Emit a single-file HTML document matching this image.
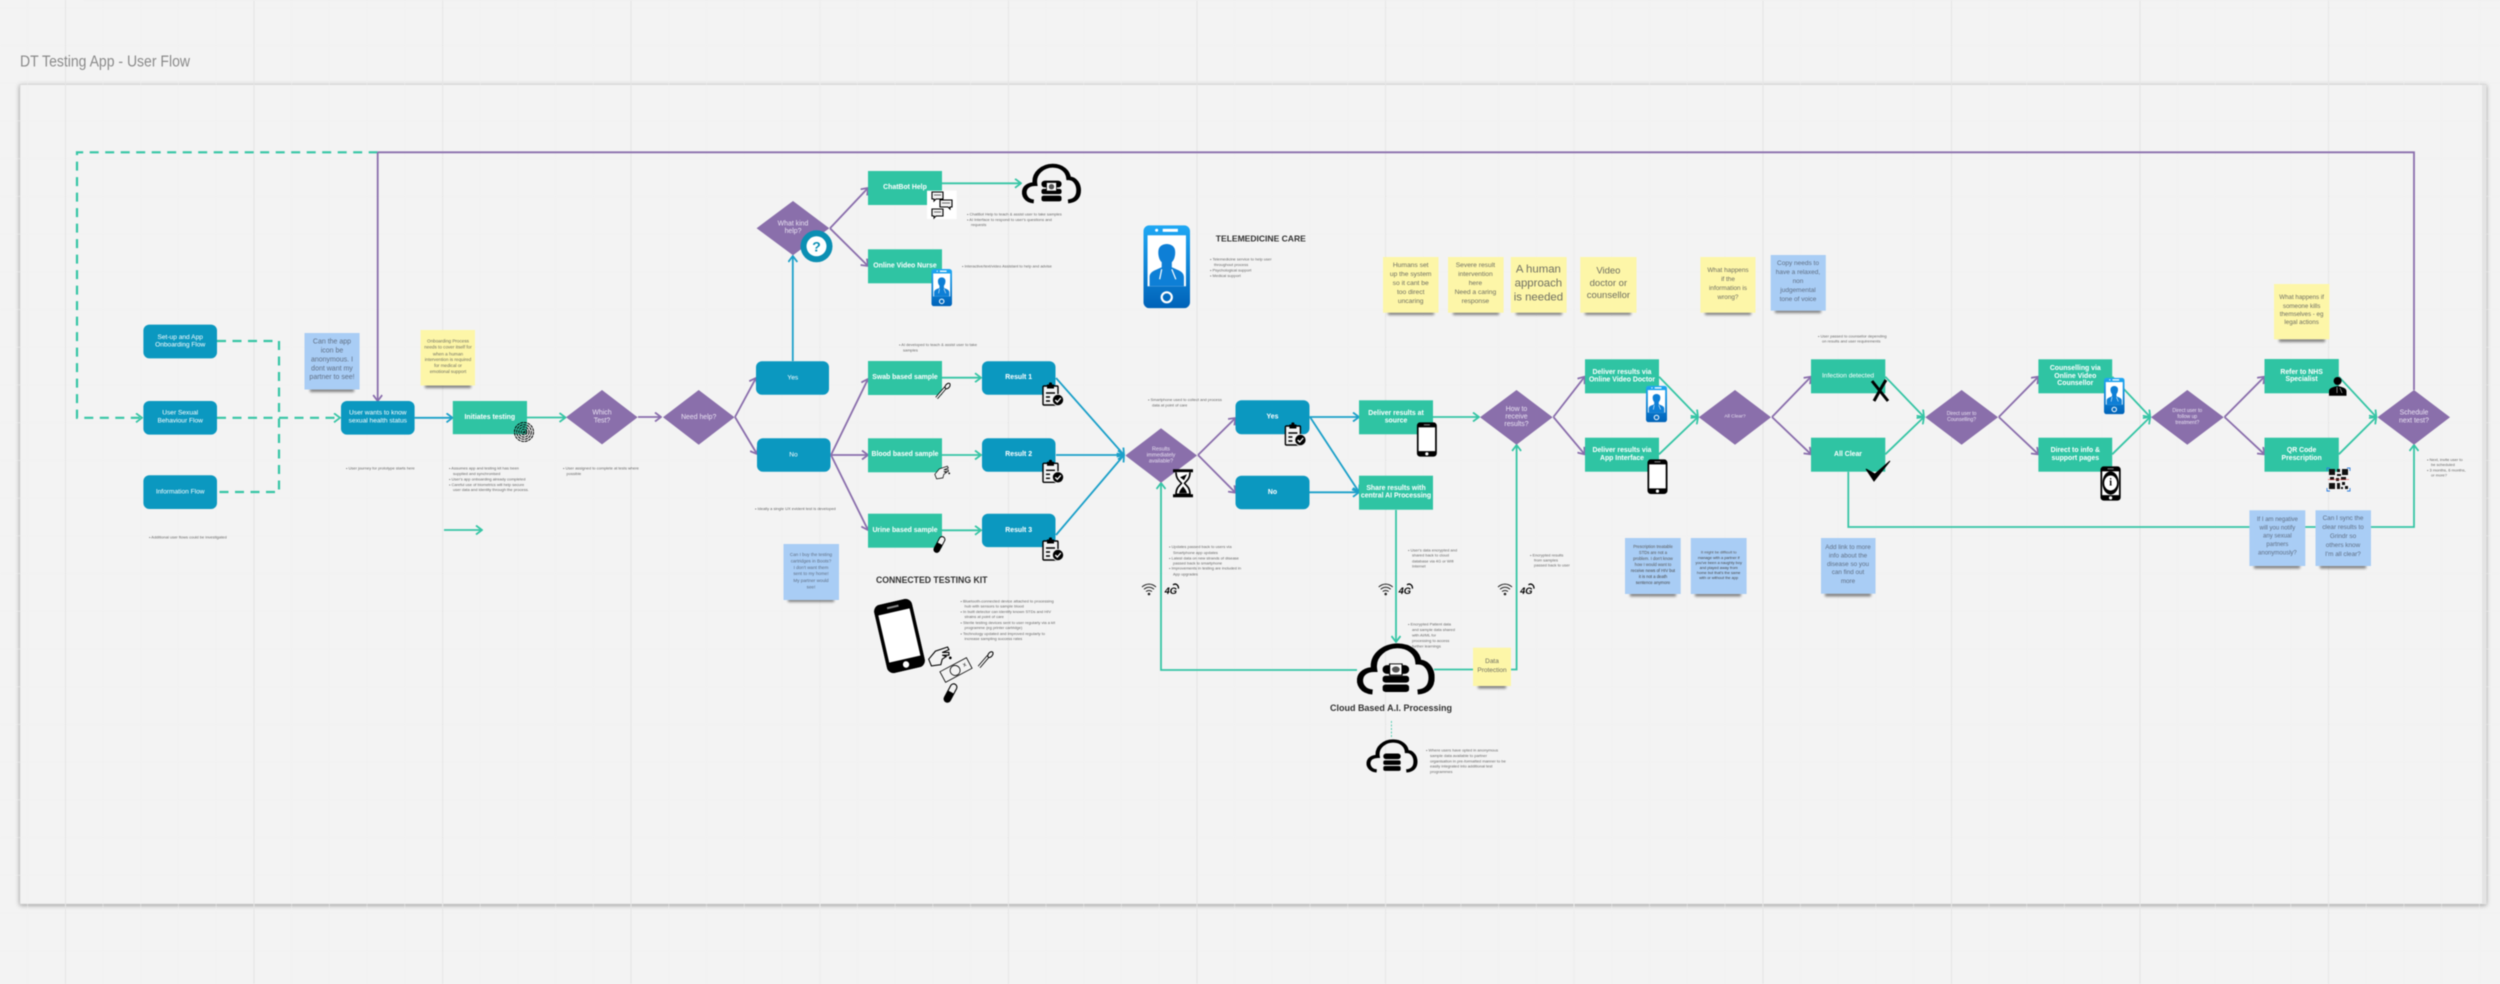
<!DOCTYPE html>
<html lang="en"><head><meta charset="utf-8"><title>DT Testing App - User Flow</title>
<style>
html,body{margin:0;padding:0;background:#f3f3f3;width:2500px;height:984px;overflow:hidden}
svg{display:block;filter:blur(.4px)}
text{font-family:"Liberation Sans",sans-serif;dominant-baseline:central}
.c text,text.c{text-anchor:middle}
.n{fill:#fff;font-size:6.6px;text-anchor:middle}
.b{fill:#fff;font-size:6.9px;font-weight:bold;text-anchor:middle}
.d{fill:#e9e2f2;font-size:6.9px;text-anchor:middle}
.s{fill:#666;font-size:4px}
.y{fill:#6f6f62;text-anchor:middle;font-size:6.7px}
.u{fill:#5f6f85;text-anchor:middle;font-size:6.5px}
.h{fill:#333;font-weight:bold}
.gl{fill:none;stroke-width:1.8}
.gr{stroke:#36c5a5}.pu{stroke:#8a6eac}.bl{stroke:#1ba0c9}
.ma{marker-end:url(#mg)}.mp{marker-end:url(#mp)}.mb{marker-end:url(#mb)}
.nb{fill:#0b98c0}.ng{fill:#2fc4a3}.di{fill:#8a6fab}.sy{fill:#fdf6a8}.sb{fill:#a9cdf5}
.sh{fill:#444;opacity:.65;filter:url(#bl2)}
</style></head><body>
<svg xmlns="http://www.w3.org/2000/svg" width="2500" height="984" viewBox="0 0 2500 984">
<defs>
<marker id="mg" viewBox="0 0 10 10" refX="9" refY="5" markerWidth="10" markerHeight="10" markerUnits="userSpaceOnUse" orient="auto"><path d="M3 .5 9 5 3 9.5" fill="none" stroke="#36c5a5" stroke-width="1.8"/></marker>
<marker id="mp" viewBox="0 0 10 10" refX="9" refY="5" markerWidth="10" markerHeight="10" markerUnits="userSpaceOnUse" orient="auto"><path d="M3 .5 9 5 3 9.5" fill="none" stroke="#8a6eac" stroke-width="1.8"/></marker>
<marker id="mb" viewBox="0 0 10 10" refX="9" refY="5" markerWidth="10" markerHeight="10" markerUnits="userSpaceOnUse" orient="auto"><path d="M3 .5 9 5 3 9.5" fill="none" stroke="#1ba0c9" stroke-width="1.8"/></marker>
<pattern id="g1" width="37.72" height="37.72" x="27.8" y="8" patternUnits="userSpaceOnUse"><path d="M37.72 0V37.72M0 37.72H37.72" stroke="#efefef" stroke-width="1" fill="none"/></pattern>
<filter id="bl2" x="-30%" y="-200%" width="160%" height="500%"><feGaussianBlur stdDeviation="1.2"/></filter>
<filter id="fs" x="-2%" y="-4%" width="104%" height="108%"><feDropShadow dx="0" dy="1" stdDeviation="2.5" flood-color="#000" flood-opacity=".4"/></filter>
<linearGradient id="pg" x1="0" y1="0" x2="0" y2="1"><stop offset="0" stop-color="#1fa8f4"/><stop offset="1" stop-color="#0062b8"/></linearGradient>

<symbol id="cloud" viewBox="0 0 100 85" preserveAspectRatio="none"><path d="M20 79C7 78 3 66 4 58 5 49 12 43 22 43 19 20 36 5 52 5 68 5 78 17 79 31 91 31 96 45 96 56 96 70 90 78 78 79" fill="none" stroke="#000" stroke-width="8"/><g fill="#000"><rect x="33" y="36" width="34" height="14" rx="6"/><rect x="33" y="53" width="34" height="11" rx="4"/><rect x="33" y="67" width="34" height="12" rx="4"/></g></symbol>
<symbol id="cloudai" viewBox="0 0 100 85" preserveAspectRatio="none"><use href="#cloud" width="100" height="85"/><rect x="42" y="34" width="16" height="18" fill="#fff" stroke="#000" stroke-width="1.5"/><circle cx="50" cy="43" r="5" fill="#555"/></symbol>
<symbol id="pb" viewBox="0 0 20 34" preserveAspectRatio="none"><rect width="20" height="34" rx="3.5" fill="#000"/><rect x="1.8" y="5" width="16.4" height="23.5" fill="#fff"/><rect x="7" y="2" width="6" height="1" fill="#888"/><circle cx="10" cy="31.2" r="1.6" fill="#fff"/></symbol>
<symbol id="pd" viewBox="0 0 46 83" preserveAspectRatio="none"><rect width="46" height="83" rx="6" fill="url(#pg)"/><rect x="4" y="10" width="38" height="51" fill="#fff"/><circle cx="13" cy="5" r="1.5" fill="#fff"/><rect x="19" y="3.5" width="15" height="3" fill="#fff"/><path d="M6 61V52C6 46 12 45 18 42V37C15 34 14 28 15 24 17 17 29 17 31 24 32 28 31 34 28 37V42C34 45 40 46 40 52V61Z" fill="#0e7fd6"/><path d="M18 44 16 54M28 44 32 54" stroke="#fff" stroke-width="1.2" fill="none"/><circle cx="23" cy="72" r="5" fill="none" stroke="#fff" stroke-width="2.2"/></symbol>
<symbol id="clip" viewBox="0 0 22 24"><rect x="1" y="4" width="15" height="19" rx="1" fill="#f3f3f3" stroke="#000" stroke-width="1.4"/><rect x="5" y="2.5" width="7" height="4" fill="#000"/><circle cx="8.5" cy="2" r="1.6" fill="#000"/><path d="M4 11H13M4 15H8M4 19H8" stroke="#000" stroke-width="1.4"/><circle cx="16" cy="18" r="5.6" fill="#000" stroke="#f3f3f3" stroke-width=".8"/><path d="M13.3 18 15.3 20 18.8 16" fill="none" stroke="#fff" stroke-width="1.3"/></symbol>
<symbol id="hg" viewBox="0 0 22 30"><path d="M1 1H21V4H1ZM1 26H21V29H1Z" fill="#000"/><path d="M4 4C4 11 8 13 9.5 15 8 17 4 19 4 26H18C18 19 14 17 12.5 15 14 13 18 11 18 4" fill="#fff" stroke="#000" stroke-width="1.6"/><path d="M7 25C8 21 10 20 11 18 12 20 14 21 15 25ZM8 9 15 6 12 12Z" fill="#000"/></symbol>
<symbol id="wf" viewBox="0 0 16 14"><g fill="none" stroke="#222" stroke-width="1"><path d="M1 4.5C5 .6 11 .6 15 4.5"/><path d="M3 6.8C6 4 10 4 13 6.8"/><path d="M5 9C7 7.6 9 7.6 11 9"/></g><circle cx="8" cy="11.5" r="1.3" fill="#222"/></symbol>
<symbol id="gg" viewBox="0 0 16 14"><text x="0" y="8.5" font-size="10" font-weight="bold" font-style="italic" fill="#000">4G</text><path d="M9 2C12 0 15 2 15 6" fill="none" stroke="#000" stroke-width="1.4"/></symbol>
<symbol id="swab" viewBox="0 0 16 17"><path d="M2 15.5 11 5" stroke="#000" stroke-width="3.2"/><path d="M2 15.5 11 5" stroke="#f3f3f3" stroke-width="1.6"/><ellipse cx="13" cy="3.5" rx="2" ry="3.2" transform="rotate(40 13 3.5)" fill="#f3f3f3" stroke="#000" stroke-width="1"/></symbol>
<symbol id="tube" viewBox="0 0 16 20"><g transform="rotate(28 8 10)"><rect x="5" y="1" width="6" height="18" rx="3" fill="#f3f3f3" stroke="#000"/><path d="M5 9H11V16C11 20 5 20 5 16Z" fill="#000"/></g></symbol>
<symbol id="hand" viewBox="0 0 20 18"><path d="M2 11 7 5 16 2 17 4 12 6 17 6 17 8 12 8 15 9 12 11 11 15 4 16Z" fill="#f3f3f3" stroke="#000" stroke-width=".8"/><circle cx="18" cy="10" r="1" fill="#000"/></symbol>
</defs>

<rect width="2500" height="984" fill="#f3f3f3"/>
<rect x="20" y="84.5" width="2466" height="819.5" fill="#f3f3f3" stroke="#cfcfcf" stroke-width=".6" filter="url(#fs)"/>
<rect width="2500" height="984" fill="url(#g1)"/>
<g stroke="#e5e5e5" stroke-width="1" fill="none"><path d="M65.5 0V984M254 0V984M442.7 0V984M631 0V984M1008.4 0V984M1197 0V984M1385.6 0V984M1763 0V984M1951.5 0V984M2140 0V984M2328.6 0V984M272 0H2500M460.7 0H2500M649 0H2500M837.7 0H2500"/></g>
<g stroke="#ececec" fill="none"><path d="M820 0V984M1574 0V984M83.5 0H2500"/></g>
<rect x="2482" y="85" width="4.5" height="819" fill="#e4e4e4"/>

<text x="20" y="62" font-size="15.4" fill="#8a8a8a" textLength="170" lengthAdjust="spacingAndGlyphs">DT Testing App - User Flow</text>

<!-- connectors -->
<g class="gl gr" stroke-dasharray="9 6.5" style="stroke-width:2.2"><path d="M377.7 152.3H77V417.8H142" class="ma"/><path d="M217 341H279V492H217"/><path d="M217 417.8H340" class="ma"/></g>
<g class="gl pu"><path d="M377.7 152.3H2414V390"/><path d="M377.7 152.3V401" class="mp"/>
<path d="M638 417H661" class="mp"/><path d="M735 417 756 378" class="mp"/><path d="M735 417 757 454" class="mp"/>
<path d="M830 228.3 868 188" class="mp"/><path d="M830 228.3 868 266" class="mp"/>
<path d="M831 455 868 379" class="mp"/><path d="M831 455H868" class="mp"/><path d="M831 455 868 530" class="mp"/>
<path d="M1198 455 1235.5 418" class="mp"/><path d="M1198 455 1235.5 492.7" class="mp"/>
<path d="M1553.4 417 1584.7 376.7" class="mp"/><path d="M1553.4 417 1584.7 454.3" class="mp"/>
<path d="M1772 417 1811 376.7" class="mp"/><path d="M1772 417 1811 454.3" class="mp"/>
<path d="M1998.8 417 2038.4 376.7" class="mp"/><path d="M1998.8 417 2038.4 454.3" class="mp"/>
<path d="M2224.5 417 2264.5 376.7" class="mp"/><path d="M2224.5 417 2264.5 454.3" class="mp"/></g>
<g class="gl bl"><path d="M414.6 417.8H452.5" class="mb"/><path d="M792.8 361V256" class="mb"/>
<path d="M1056 378 1124 455" class="mb"/><path d="M1056 455H1124" class="mb"/><path d="M1056 535 1124 455" class="mb"/>
<path d="M1309.5 417H1359" class="mb"/><path d="M1309.5 492.3H1359" class="mb"/><path d="M1310 417 1359 492" class="mb"/></g>
<g class="gl gr"><path d="M527 417.5H565.5" class="ma"/><path d="M444 530H482" class="ma"/>
<path d="M942 183.3H1021" class="ma"/><path d="M942 377.7H981" class="ma"/><path d="M942 455H981" class="ma"/><path d="M942 530.3H981" class="ma"/>
<path d="M1433 417H1479" class="ma"/><path d="M1396 510V642" class="ma"/>
<path d="M1357 670H1161V483" class="ma"/><path d="M1434 669.5H1516.6V445" class="ma"/>
<path d="M1659 376.7 1698 417" class="ma"/><path d="M1659 454.3 1698 417" class="ma"/>
<path d="M1885.3 376.7 1924 417" class="ma"/><path d="M1885.3 454.3 1924 417" class="ma"/>
<path d="M2112.2 376.7 2150.2 417" class="ma"/><path d="M2112.2 454.3 2150.2 417" class="ma"/>
<path d="M2338.8 376.7 2376.3 417" class="ma"/><path d="M2338.8 454.3 2376.3 417" class="ma"/>
<path d="M1848.3 471.7V527H2414V445" class="ma"/></g>
<path d="M1391.4 721V738" stroke="#36c5a5" stroke-width=".8" stroke-dasharray="2 1.5" fill="none"/>

<!-- blue rounded nodes -->
<g class="nb"><rect x="143.4" y="324.6" width="73.6" height="33.8" rx="6"/><rect x="143.4" y="401" width="73.6" height="33.6" rx="6"/><rect x="143.4" y="475.3" width="73.6" height="33.7" rx="6"/><rect x="341" y="401" width="73.6" height="33.6" rx="6"/>
<rect x="756" y="361.3" width="73" height="33.4" rx="6"/><rect x="757" y="438.3" width="73.5" height="33.4" rx="6"/>
<rect x="982" y="361.3" width="73.5" height="33.4" rx="6"/><rect x="982" y="438.3" width="73.5" height="33.4" rx="6"/><rect x="982" y="513.7" width="73.5" height="33.4" rx="6"/>
<rect x="1235.5" y="400.3" width="74" height="34" rx="6"/><rect x="1235.5" y="475.7" width="74" height="33.6" rx="6"/></g>
<!-- green nodes -->
<g class="ng"><rect x="452.8" y="401" width="74.2" height="33.2"/><rect x="868" y="171" width="74" height="34"/><rect x="868" y="249.3" width="74" height="34"/><rect x="868" y="361" width="74" height="34"/><rect x="868" y="438.3" width="74" height="34"/><rect x="868" y="513.7" width="74" height="34"/>
<rect x="1359" y="400.3" width="74" height="34"/><rect x="1359" y="475.7" width="74" height="34"/><rect x="1585" y="359.3" width="74" height="34"/><rect x="1585" y="437.7" width="74" height="34"/><rect x="1811" y="359.3" width="74.3" height="34"/><rect x="1811" y="437.7" width="74.3" height="34"/><rect x="2038.4" y="359.3" width="73.8" height="34"/><rect x="2038.4" y="437.7" width="73.8" height="34"/><rect x="2264.5" y="359" width="74.3" height="34.3"/><rect x="2264.5" y="437.7" width="74.3" height="34"/></g>
<!-- diamonds -->
<g class="di"><polygon points="566,417.3 602,390 637.6,417.3 602,444.4"/><polygon points="663,417.3 698.7,390 734.5,417.3 698.7,444.7"/><polygon points="756.6,228.2 793,201 829.3,228.2 793,255.3"/><polygon points="1125.4,455.5 1161,428.3 1197,455.5 1161,482.7"/><polygon points="1480,417.3 1516.5,390 1552.6,417.3 1516.5,444.7"/><polygon points="1698.8,417.3 1735,390 1771,417.3 1735,444.7"/><polygon points="1925.3,417.3 1961.6,390 1998,417.3 1961.6,444.7"/><polygon points="2151,417.3 2187.3,390 2223.7,417.3 2187.3,444.7"/><polygon points="2377.5,417.3 2414,390 2450,417.3 2414,444.7"/></g>

<!-- node labels -->
<g class="n"><text class="n" x="180.2" y="337.3">Set-up and App</text><text class="n" x="180.2" y="344.8">Onboarding Flow</text><text class="n" x="180.2" y="413.2">User Sexual</text><text class="n" x="180.2" y="421">Behaviour Flow</text><text class="n" x="180.2" y="491.9">Information Flow</text><text class="n" x="377.8" y="413.2">User wants to know</text><text class="n" x="377.8" y="421">sexual health status</text><text class="n" x="792.8" y="378">Yes</text><text class="n" x="793.5" y="454.8">No</text></g>
<g><text class="b" x="1018.7" y="377.7">Result 1</text><text class="b" x="1018.7" y="454.7">Result 2</text><text class="b" x="1018.7" y="530.3">Result 3</text><text class="b" x="1272.5" y="417">Yes</text><text class="b" x="1272.5" y="492.3">No</text>
<text class="b" x="489.8" y="417.3">Initiates testing</text><text class="b" x="905" y="187.7">ChatBot Help</text><text class="b" x="905" y="266">Online Video Nurse</text><text class="b" x="905" y="377.7">Swab based sample</text><text class="b" x="905" y="454.7">Blood based sample</text><text class="b" x="905" y="530.3">Urine based sample</text>
<text class="b" x="1396" y="413.3">Deliver results at</text><text class="b" x="1396" y="421">source</text><text class="b" x="1396" y="488.3">Share results with</text><text class="b" x="1396" y="496">central AI Processing</text>
<text class="b" x="1622" y="372.3">Deliver results via</text><text class="b" x="1622" y="380">Online Video Doctor</text><text class="b" x="1622" y="450.7">Deliver results via</text><text class="b" x="1622" y="458.3">App Interface</text>
<text class="n" x="1848" y="376">Infection detected</text><text class="b" x="1848" y="454.3">All Clear</text>
<text class="b" x="2075.3" y="368.7">Counselling via</text><text class="b" x="2075.3" y="376.3">Online Video</text><text class="b" x="2075.3" y="383.7">Counsellor</text><text class="b" x="2075.3" y="450.3">Direct to info &amp;</text><text class="b" x="2075.3" y="458.3">support pages</text>
<text class="b" x="2301.6" y="372.3">Refer to NHS</text><text class="b" x="2301.6" y="379.7">Specialist</text><text class="b" x="2301.6" y="450.3">QR Code</text><text class="b" x="2301.6" y="458.3">Prescription</text></g>
<g><text class="d" x="602" y="412.8">Which</text><text class="d" x="602" y="421">Test?</text><text class="d" x="698.7" y="417.3">Need help?</text><text class="d" x="793" y="224">What kind</text><text class="d" x="793" y="231.7">help?</text>
<text class="d" style="font-size:5.4px" x="1161" y="449.3">Results</text><text class="d" style="font-size:5.4px" x="1161" y="455.7">immediately</text><text class="d" style="font-size:5.4px" x="1161" y="461.7">available?</text>
<text class="d" x="1516.5" y="409.3">How to</text><text class="d" x="1516.5" y="417">receive</text><text class="d" x="1516.5" y="424.7">results?</text>
<text class="d" style="font-size:4.9px" x="1735" y="417">All Clear?</text><text class="d" style="font-size:5px" x="1961.6" y="414">Direct user to</text><text class="d" style="font-size:5px" x="1961.6" y="420">Counselling?</text>
<text class="d" style="font-size:5px" x="2187.3" y="411">Direct user to</text><text class="d" style="font-size:5px" x="2187.3" y="417">follow up</text><text class="d" style="font-size:5px" x="2187.3" y="423">treatment?</text>
<text class="d" x="2414" y="413">Schedule</text><text class="d" x="2414" y="421">next test?</text></g>

<!-- sticky shadows -->
<g class="sh"><rect x="310" y="388" width="44" height="4"/><rect x="425" y="384" width="46" height="4"/><rect x="788" y="598" width="46" height="4"/><rect x="1388" y="311" width="46" height="4"/><rect x="1453" y="311" width="46" height="4"/><rect x="1516" y="311" width="46" height="4"/><rect x="1585" y="311" width="46" height="4"/><rect x="1705" y="311" width="46" height="4"/><rect x="1775" y="309" width="46" height="4"/><rect x="1478" y="684.5" width="28" height="4"/><rect x="1630" y="592.5" width="46" height="4"/><rect x="1695" y="592.5" width="46" height="4"/><rect x="1825" y="592.5" width="46" height="4"/><rect x="2279" y="338" width="46" height="4"/><rect x="2254" y="564.5" width="46" height="4"/><rect x="2320" y="564.5" width="46" height="4"/></g>
<!-- stickies -->
<g class="sy"><rect x="420.6" y="330" width="54.4" height="55.5"/><rect x="1383" y="257" width="55.5" height="55.7"/><rect x="1448" y="257" width="55.6" height="55.7"/><rect x="1510.8" y="257" width="55.8" height="55.7"/><rect x="1580.3" y="257" width="56.2" height="55.7"/><rect x="1700.4" y="257" width="55.1" height="55.7"/><rect x="1473" y="647.7" width="38" height="38.3"/><rect x="2274" y="284" width="55.4" height="55.3"/></g>
<g class="sb"><rect x="304.5" y="333" width="55.1" height="56.5"/><rect x="783.5" y="544" width="55.5" height="56"/><rect x="1770.7" y="255" width="55.1" height="55.7"/><rect x="1625" y="538" width="55.7" height="56"/><rect x="1690.8" y="538" width="55.8" height="56"/><rect x="1821" y="538" width="54.5" height="55.7"/><rect x="2249.4" y="510.3" width="55.9" height="55.7"/><rect x="2315.5" y="510.3" width="55.5" height="55.7"/></g>
<!-- sticky text -->
<text class="u" style="font-size:7px" x="332" y="342">Can the app</text><text class="u" style="font-size:7px" x="332" y="351">icon be</text><text class="u" style="font-size:7px" x="332" y="360">anonymous. I</text><text class="u" style="font-size:7px" x="332" y="369">dont want my</text><text class="u" style="font-size:7px" x="332" y="377.6">partner to see!</text>
<text class="y" style="font-size:4.6px" x="448" y="341">Onboarding Process</text><text class="y" style="font-size:4.6px" x="448" y="347">needs to cover itself for</text><text class="y" style="font-size:4.6px" x="448" y="354">when a human</text><text class="y" style="font-size:4.6px" x="448" y="359.4">intervention is required</text><text class="y" style="font-size:4.6px" x="448" y="365.4">for medical or</text><text class="y" style="font-size:4.6px" x="448" y="371.3">emotional support</text>
<text class="u" style="font-size:4.6px" x="811" y="554.3">Can I buy the testing</text><text class="u" style="font-size:4.6px" x="811" y="561">cartridges in Boots?</text><text class="u" style="font-size:4.6px" x="811" y="567.3">I don't want them</text><text class="u" style="font-size:4.6px" x="811" y="573.7">sent to my home!</text><text class="u" style="font-size:4.6px" x="811" y="580.3">My partner would</text><text class="u" style="font-size:4.6px" x="811" y="587">see!</text>
<text class="y" x="1410.7" y="265.7">Humans set</text><text class="y" x="1410.7" y="274.7">up the system</text><text class="y" x="1410.7" y="283.7">so it cant be</text><text class="y" x="1410.7" y="292.7">too direct</text><text class="y" x="1410.7" y="301.7">uncaring</text>
<text class="y" x="1475.4" y="265.7">Severe result</text><text class="y" x="1475.4" y="274.7">intervention</text><text class="y" x="1475.4" y="283.7">here</text><text class="y" x="1475.4" y="292.7">Need a caring</text><text class="y" x="1475.4" y="301.7">response</text>
<text class="y" style="font-size:11.4px" x="1538.4" y="269.3">A human</text><text class="y" style="font-size:11.4px" x="1538.4" y="283.3">approach</text><text class="y" style="font-size:11.4px" x="1538.4" y="297.7">is needed</text>
<text class="y" style="font-size:9.5px" x="1608.4" y="271">Video</text><text class="y" style="font-size:9.5px" x="1608.4" y="283.3">doctor or</text><text class="y" style="font-size:9.5px" x="1608.4" y="295.7">counsellor</text>
<text class="y" style="font-size:6.4px" x="1728" y="270.3">What happens</text><text class="y" style="font-size:6.4px" x="1728" y="279.3">if the</text><text class="y" style="font-size:6.4px" x="1728" y="288.3">information is</text><text class="y" style="font-size:6.4px" x="1728" y="297.3">wrong?</text>
<text class="u" x="1798" y="263.3">Copy needs to</text><text class="u" x="1798" y="272.3">have a relaxed,</text><text class="u" x="1798" y="281.3">non</text><text class="u" x="1798" y="290.3">judgemental</text><text class="u" x="1798" y="299.3">tone of voice</text>
<text class="u" style="font-size:4.2px;fill:#555" x="1653" y="546.3">Prescription treatable</text><text class="u" style="font-size:4.2px;fill:#555" x="1653" y="552.3">STDs are not a</text><text class="u" style="font-size:4.2px;fill:#555" x="1653" y="558.3">problem. I don't know</text><text class="u" style="font-size:4.2px;fill:#555" x="1653" y="564.3">how I would want to</text><text class="u" style="font-size:4.2px;fill:#444" x="1653" y="570.3">receive news of HIV but</text><text class="u" style="font-size:4.2px;fill:#444" x="1653" y="576.3">it is not a death</text><text class="u" style="font-size:4.2px;fill:#444" x="1653" y="582.3">sentence anymore</text>
<text class="u" style="font-size:3.9px;fill:#555" x="1718.7" y="552">It might be difficult to</text><text class="u" style="font-size:3.9px;fill:#444" x="1718.7" y="557.3">manage with a partner if</text><text class="u" style="font-size:3.9px;fill:#444" x="1718.7" y="562.3">you've been a naughty boy</text><text class="u" style="font-size:3.9px;fill:#444" x="1718.7" y="567.3">and played away from</text><text class="u" style="font-size:3.9px;fill:#444" x="1718.7" y="572.3">home but that's the same</text><text class="u" style="font-size:3.9px;fill:#444" x="1718.7" y="577.7">with or without the app</text>
<text class="u" style="font-size:6.3px" x="1848" y="547.7">Add link to more</text><text class="u" style="font-size:6.3px" x="1848" y="556">info about the</text><text class="u" style="font-size:6.3px" x="1848" y="564.7">disease so you</text><text class="u" style="font-size:6.3px" x="1848" y="572.7">can find out</text><text class="u" style="font-size:6.3px" x="1848" y="581.3">more</text>
<text class="y" style="font-size:6.2px" x="2301.6" y="297.7">What happens if</text><text class="y" style="font-size:6.2px" x="2301.6" y="306.3">someone kills</text><text class="y" style="font-size:6.2px" x="2301.6" y="314.3">themselves - eg</text><text class="y" style="font-size:6.2px" x="2301.6" y="322.7">legal actions</text>
<text class="u" style="font-size:6px" x="2277.4" y="520">If I am negative</text><text class="u" style="font-size:6px" x="2277.4" y="528.3">will you notify</text><text class="u" style="font-size:6px" x="2277.4" y="536.7">any sexual</text><text class="u" style="font-size:6px" x="2277.4" y="545">partners</text><text class="u" style="font-size:6px" x="2277.4" y="553.7">anonymously?</text>
<text class="u" style="font-size:6.4px" x="2343" y="518.7">Can I sync the</text><text class="u" style="font-size:6.4px" x="2343" y="527.7">clear results to</text><text class="u" style="font-size:6.4px" x="2343" y="536.7">Grindr so</text><text class="u" style="font-size:6.4px" x="2343" y="545.3">others know</text><text class="u" style="font-size:6.4px" x="2343" y="554.3">I'm all clear?</text>
<text class="y" style="font-size:6.5px" x="1492" y="661.3">Data</text><text class="y" style="font-size:6.5px" x="1492" y="670.7">Protection</text>

<!-- small notes -->
<g class="s"><text class="s" x="346" y="468">• User journey for prototype starts here</text>
<text class="s" x="449" y="468">• Assumes app and testing kit has been</text><text class="s" x="453" y="473.3">supplied and synchronised</text><text class="s" x="449" y="479">• User's app onboarding already completed</text><text class="s" x="449" y="484.4">• Careful use of biometrics will help secure</text><text class="s" x="453" y="489.5">user data and identity through the process.</text>
<text class="s" x="563" y="468">• User assigned to complete at tests where</text><text class="s" x="566.5" y="473.3">possible</text>
<text class="s" x="149" y="537">• Additional user flows could be investigated</text>
<text class="s" x="967" y="214">• ChatBot Help to teach &amp; assist user to take samples</text><text class="s" x="967" y="219.3">• AI Interface to respond to user's questions and</text><text class="s" x="971" y="224.3">requests</text>
<text class="s" x="962" y="266">• Interactive/text/video Assistant to help and advise</text>
<text class="s" x="899" y="344.7">• AI developed to teach &amp; assist user to take</text><text class="s" x="903" y="350">samples</text>
<text class="s" x="755" y="508.7">• Ideally a single UX evident test is developed</text>
<text class="s" x="1148" y="399.3">• Smartphone used to collect and process</text><text class="s" x="1152" y="405">data at point of care</text>
<text class="s" x="1210" y="259">• Telemedicine service to help user</text><text class="s" x="1214" y="264.3">throughout process</text><text class="s" x="1210" y="270">• Psychological support</text><text class="s" x="1210" y="275.3">• Medical support</text>
<text class="s" x="960.5" y="601">• Bluetooth-connected device attached to processing</text><text class="s" x="964.5" y="606">hub with sensors to sample blood</text><text class="s" x="960.5" y="611.7">• In built detector can identify known STDs and HIV</text><text class="s" x="964.5" y="616.7">strains at point of care</text><text class="s" x="960.5" y="622.7">• Sterile testing devices sent to user regularly via a kit</text><text class="s" x="964.5" y="627.7">programme (eg printer cartridge)</text><text class="s" x="960.5" y="633.3">• Technology updated and improved regularly to</text><text class="s" x="964.5" y="638.3">increase sampling success rates</text>
<text class="s" x="1169" y="546.7">• Updates passed back to users via</text><text class="s" x="1173" y="552.5">Smartphone app updates</text><text class="s" x="1169" y="558">• Latest data on new strands of disease</text><text class="s" x="1173" y="563">passed back to smartphone</text><text class="s" x="1169" y="568">• Improvements in testing are included in</text><text class="s" x="1173" y="574">App upgrades</text>
<text class="s" x="1408" y="550">• User's data encrypted and</text><text class="s" x="1412" y="555">shared back to cloud</text><text class="s" x="1412" y="561">database via 4G or Wifi</text><text class="s" x="1412" y="566">Internet</text>
<text class="s" x="1530" y="555">• Encrypted results</text><text class="s" x="1534" y="560">from samples</text><text class="s" x="1534" y="565">passed back to user</text>
<text class="s" x="1408" y="624">• Encrypted Patient data</text><text class="s" x="1412" y="629.6">and sample data shared</text><text class="s" x="1412" y="635">with AI/ML for</text><text class="s" x="1412" y="640.6">processing to access</text><text class="s" x="1412" y="646">further learnings</text>
<text class="s" x="1426" y="750">• Where users have opted in anonymous</text><text class="s" x="1430" y="755.6">sample data available to partner</text><text class="s" x="1430" y="761">organisation in pre-formatted manner to be</text><text class="s" x="1430" y="766">easily integrated into additional test</text><text class="s" x="1430" y="771.5">programmes</text>
<text class="s" x="1818" y="336">• User passed to counsellor depending</text><text class="s" x="1822" y="341">on results and user requirements</text>
<text class="s" x="2427" y="459.7">• Next, invite user to</text><text class="s" x="2431" y="464.7">be scheduled</text><text class="s" x="2427" y="470">• 3 months, 6 months,</text><text class="s" x="2431" y="475">or more?</text></g>
<!-- headings -->
<text class="h" x="1215.8" y="238.3" font-size="8.4" textLength="90" lengthAdjust="spacingAndGlyphs">TELEMEDICINE CARE</text>
<text class="h" x="876" y="580" font-size="9.2" textLength="111.5" lengthAdjust="spacingAndGlyphs">CONNECTED TESTING KIT</text>
<text class="h" x="1330" y="707.7" font-size="9.4" textLength="122" lengthAdjust="spacingAndGlyphs">Cloud Based A.I. Processing</text>

<!-- icons -->
<g fill="none" stroke="#000" stroke-width="1" stroke-dasharray="3 .7"><circle cx="524" cy="432" r="9.5"/><circle cx="524" cy="432" r="7.3"/><circle cx="524" cy="432" r="5.1"/><circle cx="524" cy="432" r="2.9"/><circle cx="524" cy="432" r=".9"/></g>
<circle cx="816.5" cy="246.3" r="16" fill="#0b8fb3"/><circle cx="816.5" cy="246.3" r="10" fill="#fff"/><text x="816.5" y="246.5" text-anchor="middle" font-size="14" font-weight="bold" fill="#0b8fb3">?</text>
<rect x="927" y="190.7" width="29.7" height="28.3" fill="#fff"/>
<g fill="#f3f3f3" stroke="#000" stroke-width="1.1"><path d="M932 192H943V199H936L934 201V199H932Z"/><path d="M940 200H952V207H950V209L948 207H940Z"/><path d="M932 209H943V216H936L934 218V216H932Z"/></g>
<g stroke="#666" stroke-width="1"><path d="M934 195H941M942 203H950M934 212H941"/></g>
<use href="#cloud" x="1022" y="163.3" width="59" height="41"/>
<rect x="1046.5" y="182.5" width="10" height="8.5" fill="#fff" stroke="#000" stroke-width=".7"/><circle cx="1051.5" cy="186.7" r="2.7" fill="#555"/>
<use href="#pd" x="931.4" y="269" width="20.6" height="37.3"/>
<use href="#pd" x="1143.5" y="225.3" width="46.5" height="83"/>
<use href="#pd" x="1646" y="385.7" width="21" height="36.6"/>
<use href="#pd" x="2104" y="377.7" width="20.5" height="36.6"/>
<use href="#swab" x="934.6" y="382.5" width="16" height="17"/>
<use href="#hand" x="933" y="464" width="18" height="17"/>
<use href="#tube" x="931.4" y="535" width="16" height="19"/>
<use href="#clip" x="1042" y="382" width="22" height="24"/><use href="#clip" x="1042" y="459.3" width="22" height="24"/><use href="#clip" x="1042" y="537" width="22" height="24"/><use href="#clip" x="1284.4" y="422" width="22" height="24"/>
<use href="#hg" x="1172" y="468.3" width="22" height="30"/>
<use href="#pb" x="1416.8" y="422.3" width="20.1" height="34.4"/>
<use href="#pb" x="1647.4" y="459.3" width="20.1" height="34.7"/>
<use href="#pb" x="2100.4" y="466.3" width="20.4" height="34.4"/>
<ellipse cx="2110.6" cy="483" rx="8.2" ry="11.7" fill="#000"/><ellipse cx="2110.6" cy="483" rx="6.4" ry="7.5" fill="#fff"/><text x="2110.6" y="483" text-anchor="middle" font-size="10" font-weight="bold" fill="#000" style="font-family:'Liberation Serif',serif">i</text>
<g transform="rotate(-13 899.5 636)"><use href="#pb" x="880" y="601" width="39" height="70"/></g>
<use href="#hand" x="926" y="644" width="27" height="25"/>
<g transform="rotate(-28 956 670)"><rect x="941" y="664" width="30" height="12" fill="none" stroke="#000" stroke-width=".8"/><circle cx="955" cy="670" r="5" fill="none" stroke="#000" stroke-width=".8"/><text x="966" y="670" font-size="6" text-anchor="middle" fill="#000">x</text></g>
<use href="#swab" x="977" y="651" width="16.5" height="17.5"/>
<use href="#tube" x="941" y="682" width="19" height="22"/>
<use href="#wf" x="1141" y="582.5" width="16" height="14"/><use href="#wf" x="1377.7" y="582.5" width="16" height="14"/><use href="#wf" x="1497" y="582.5" width="16" height="14"/>
<use href="#gg" x="1164.5" y="583" width="15" height="13"/><use href="#gg" x="1398.5" y="583" width="15" height="13"/><use href="#gg" x="1520" y="583" width="15" height="13"/>
<use href="#cloudai" x="1357" y="642.7" width="77.7" height="53"/>
<use href="#cloud" x="1366.5" y="739" width="51" height="34.3"/>
<path d="M1872 381 1888 401M1886 380C1882 386 1878 394 1874 401" fill="none" stroke="#000" stroke-width="3"/>
<path d="M1866 469 1874 481 1890 461 1875 474Z" fill="#000" stroke="#000" stroke-width="1"/>
<g fill="#000"><circle cx="2337.6" cy="381" r="4"/><path d="M2329 395.7V391C2329 388 2333 387 2337.6 386 2342 387 2346.5 388 2346.5 391V395.7Z"/></g><path d="M2337 387V393M2340 388 2342 393" stroke="#fff" stroke-width=".5"/>
<g fill="#111"><path d="M2329 469h6v6h-6zM2342 469h6v6h-6zM2329 483h6v6h-6z"/><rect x="2337" y="469" width="3" height="3"/><rect x="2337" y="474" width="4" height="2"/><rect x="2330" y="477" width="4" height="3"/><rect x="2336" y="478" width="3" height="3"/><rect x="2341" y="477" width="5" height="3"/><rect x="2337" y="483" width="3" height="6"/><rect x="2342" y="482" width="3" height="3"/><rect x="2345" y="486" width="3" height="3"/><rect x="2341" y="487" width="2" height="2"/></g>
<path d="M2328 479.5H2349" stroke="#d22" stroke-width=".6"/>
<path d="M2327 471V468H2330M2347 468H2350V471M2327 488V491H2330M2347 491H2350V488" fill="none" stroke="#2b7de0" stroke-width=".9"/>
</svg>
</body></html>
